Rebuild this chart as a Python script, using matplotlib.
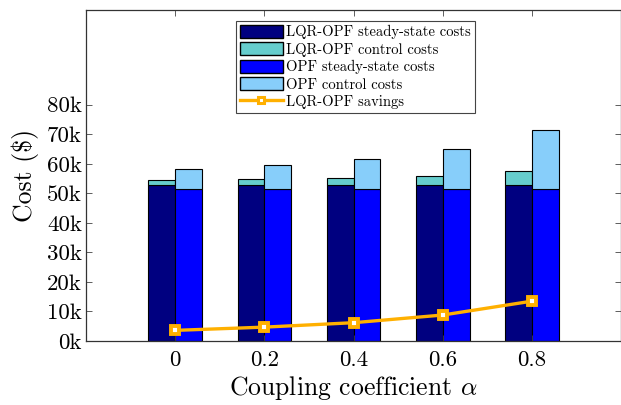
import numpy as np
import matplotlib
matplotlib.use('Agg')
import matplotlib.pyplot as plt
from matplotlib.lines import Line2D
from matplotlib.patches import Patch

plt.rcParams['font.family'] = 'serif'
plt.rcParams['font.serif'] = ['cmr10']
plt.rcParams['mathtext.fontset'] = 'cm'
plt.rcParams['axes.formatter.use_mathtext'] = True

# coupling coefficient values and costs in $k
alpha = [0, 0.2, 0.4, 0.6, 0.8]
tick_labels = ['0', '0.2', '0.4', '0.6', '0.8']
lqr_steady = [52.8, 52.8, 52.8, 52.9, 52.8]
lqr_control = [1.7, 2.1, 2.4, 3.1, 4.9]
opf_steady = [51.4, 51.4, 51.4, 51.4, 51.4]
opf_control = [6.8, 8.3, 10.2, 13.5, 20.1]
savings = [3.6, 4.7, 6.2, 8.8, 13.5]

c_lqr_ss = '#000080'
c_lqr_ct = '#66CDCD'
c_opf_ss = '#0000FF'
c_opf_ct = '#87CEFA'
c_sav = '#FFB000'

fig = plt.figure(figsize=(6.21, 4.05), dpi=100)
ax = fig.add_axes([0.1385, 0.158, 0.862, 0.817])

x = np.array(alpha)
w = 0.06
k = 1000
lqr_ss = np.array(lqr_steady) * k
lqr_ct = np.array(lqr_control) * k
opf_ss = np.array(opf_steady) * k
opf_ct = np.array(opf_control) * k

ax.bar(x - w / 2, lqr_ss, w, color=c_lqr_ss, edgecolor='k', linewidth=0.8)
ax.bar(x - w / 2, lqr_ct, w, bottom=lqr_ss, color=c_lqr_ct, edgecolor='k', linewidth=0.8)
ax.bar(x + w / 2, opf_ss, w, color=c_opf_ss, edgecolor='k', linewidth=0.8)
ax.bar(x + w / 2, opf_ct, w, bottom=opf_ss, color=c_opf_ct, edgecolor='k', linewidth=0.8)
ax.plot(x, np.array(savings) * k, color=c_sav, linewidth=2.4, marker='s',
        markersize=5.8, markerfacecolor='white', markeredgecolor=c_sav,
        markeredgewidth=2.8)

ax.set_xlim(-0.2, 1.0)
ax.set_ylim(0, 112000)
ax.set_xticks(alpha)
ax.set_xticklabels(tick_labels)
yt = np.arange(0, 90000, 10000)
ax.set_yticks(yt)
ax.set_yticklabels(['%dk' % (v // 1000) for v in yt])
ax.tick_params(direction='in', top=True, right=True, labelsize=16.5,
               length=4, width=0.6, color='#444444')
ax.tick_params(axis='x', pad=7)
ax.tick_params(axis='y', pad=3)
for s in ax.spines.values():
    s.set_linewidth(0.9)
    s.set_color('#333333')

ax.set_xlabel(r'Coupling coefficient $\alpha$', fontsize=18.5, labelpad=3)
ax.set_ylabel(r'Cost (\$)', fontsize=18.5, labelpad=6)

handles = [
    Patch(facecolor=c_lqr_ss, edgecolor='k', label='LQR-OPF steady-state costs'),
    Patch(facecolor=c_lqr_ct, edgecolor='k', label='LQR-OPF control costs'),
    Patch(facecolor=c_opf_ss, edgecolor='k', label='OPF steady-state costs'),
    Patch(facecolor=c_opf_ct, edgecolor='k', label='OPF control costs'),
    Line2D([], [], color=c_sav, linewidth=2.4, marker='s', markersize=4.5,
           markerfacecolor='white', markeredgecolor=c_sav, markeredgewidth=2.2,
           label='LQR-OPF savings'),
]
leg = ax.legend(handles=handles, loc='upper center', bbox_to_anchor=(0.503, 0.967),
                fontsize=10.5, fancybox=False, edgecolor='#444444', framealpha=1,
                handlelength=3.0, handleheight=1.0, handletextpad=0.2,
                labelspacing=0.2, borderpad=0.25, borderaxespad=0)
leg.get_frame().set_linewidth(0.8)

fig.savefig('out.png', dpi=100)
